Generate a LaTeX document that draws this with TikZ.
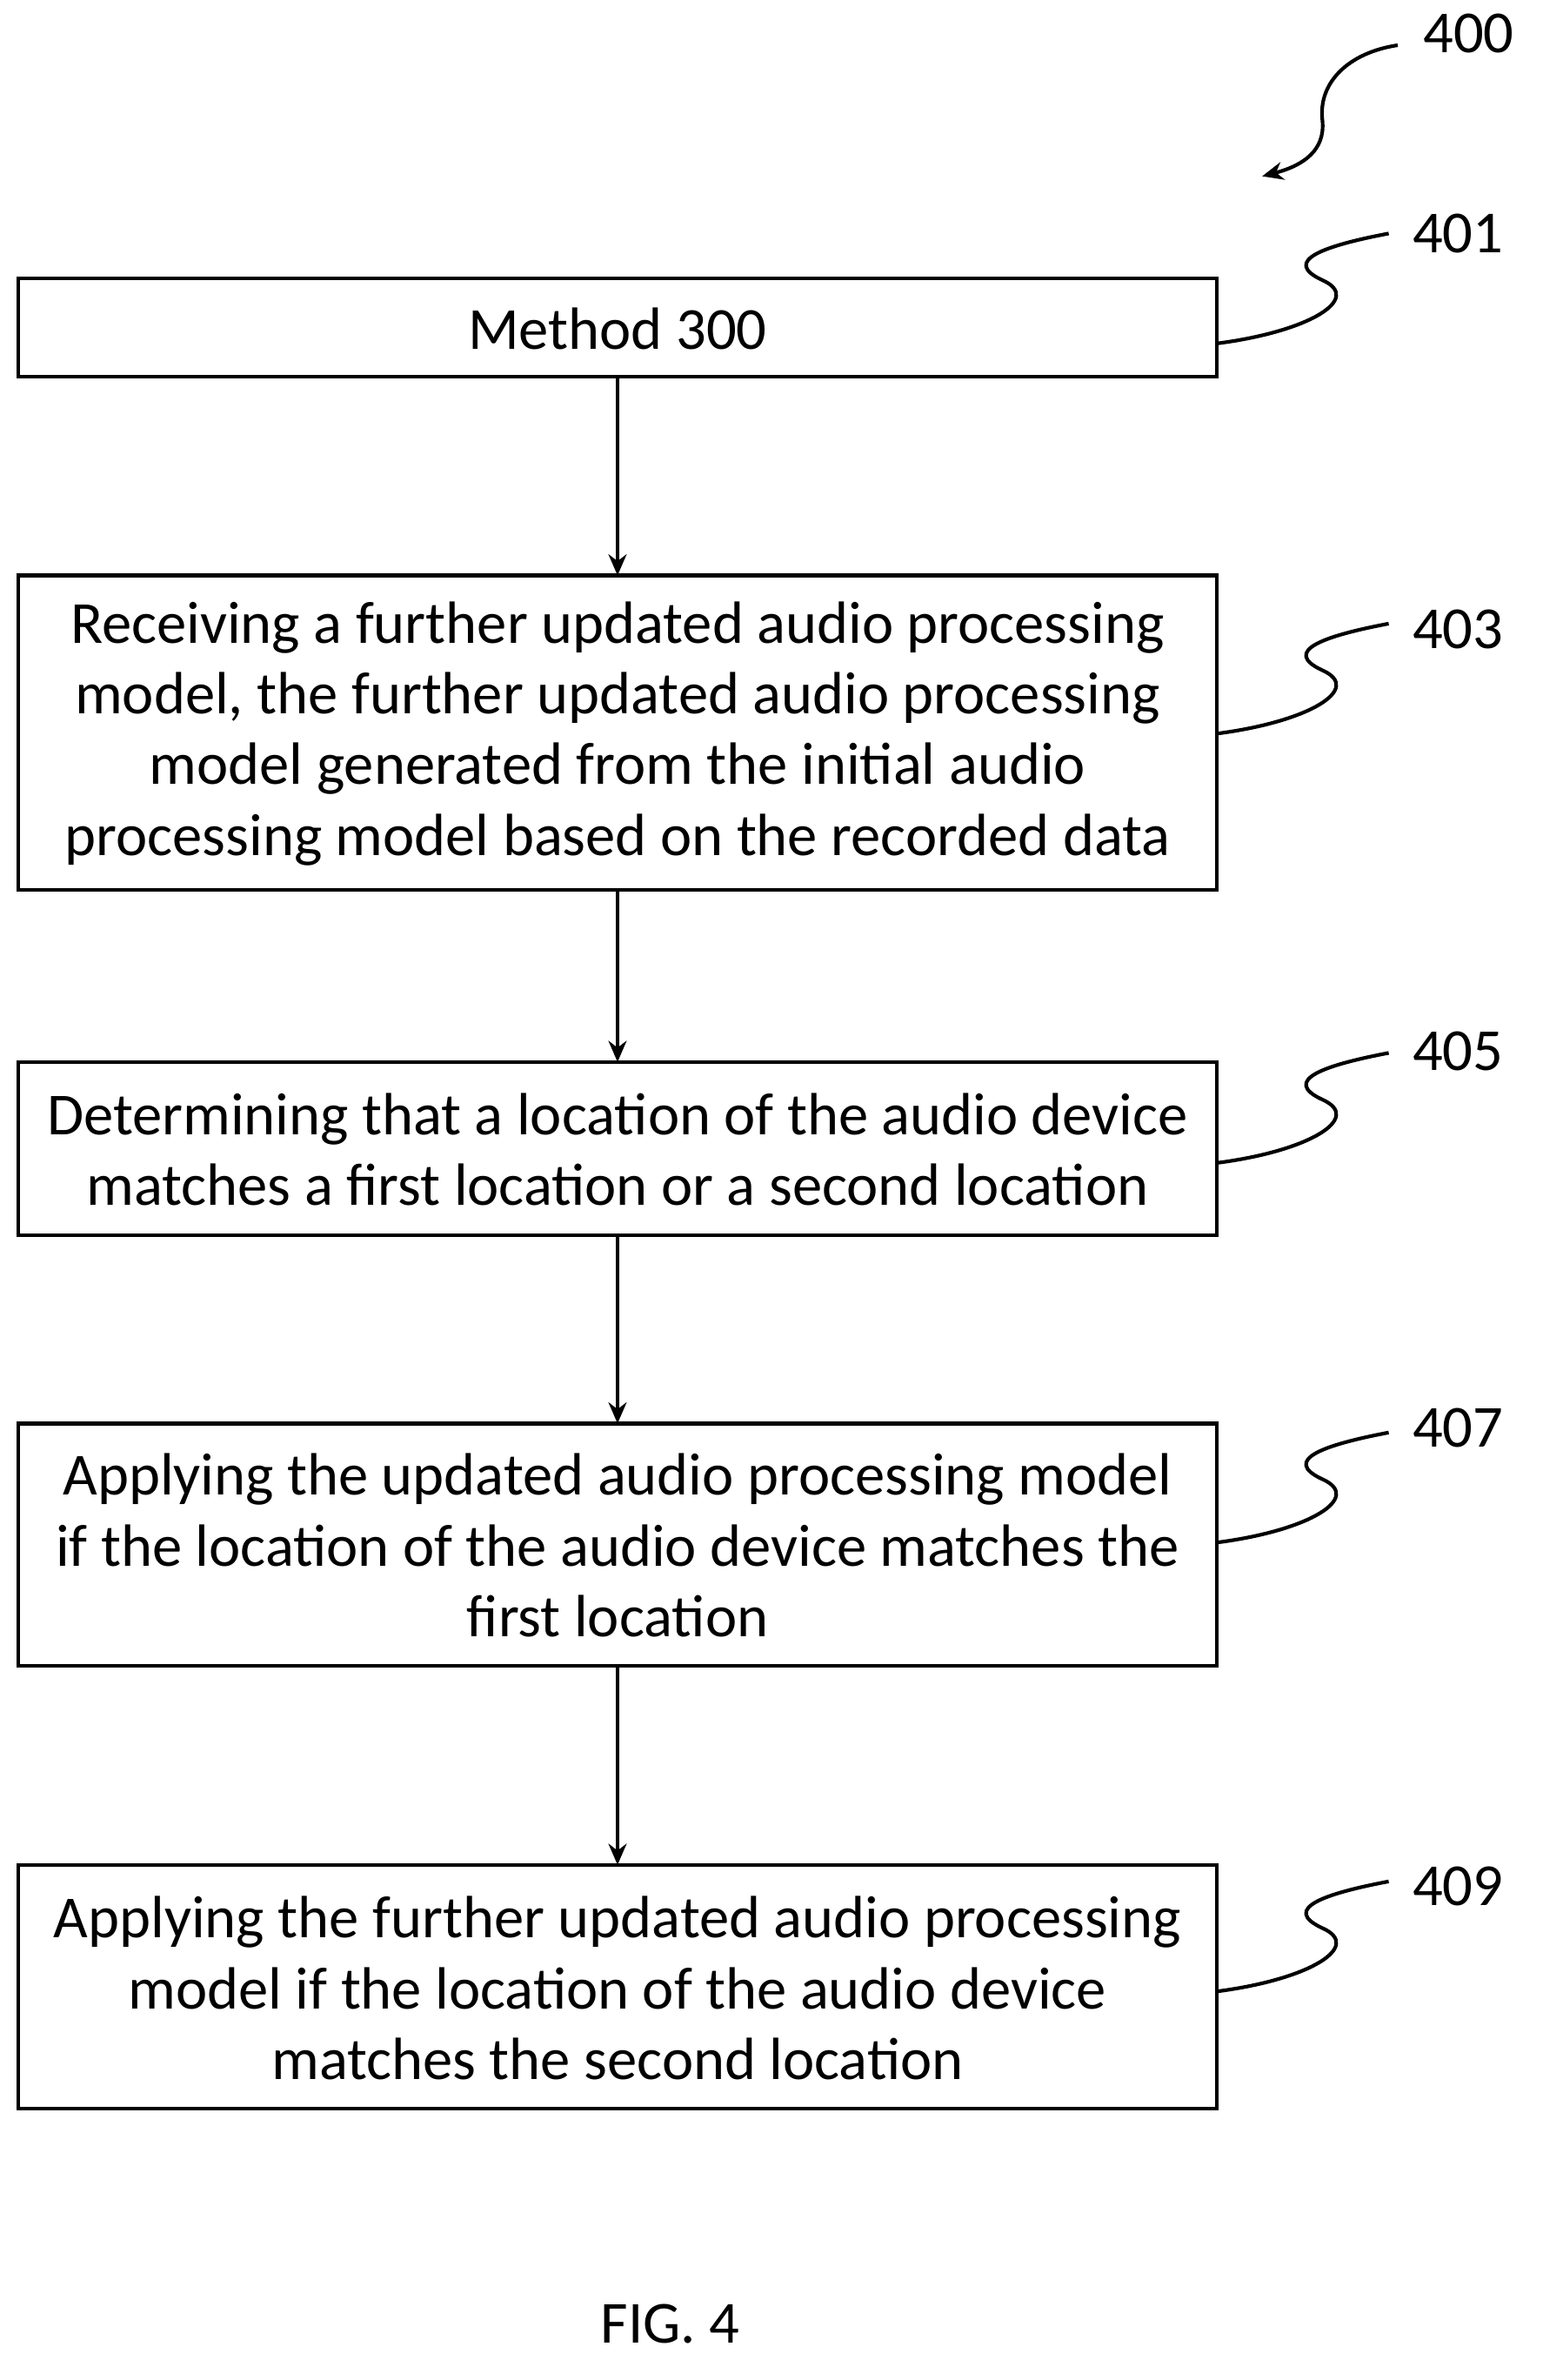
\documentclass[tikz,border=0pt]{standalone}
\usetikzlibrary{arrows.meta}
\usepackage{fontspec}
\setmainfont{Carlito}
\begin{document}
\begin{tikzpicture}[x=0.5pt,y=-0.5pt,
 box/.style={draw,line width=1.2pt,inner sep=0pt},
 txt/.style={align=center,font=\fontsize{19.8}{23.5}\selectfont},
 lab/.style={font=\fontsize{19.8}{23.5}\selectfont},
 arr/.style={-{Stealth[length=7pt,width=6pt]},line width=1.2pt},
 sq/.style={line width=1.2pt}]
\useasboundingbox (0,0) rectangle (1024,1580);
\draw[box] (12,185) rectangle (808,250);
\node[txt] (t1) at (410,218) {Method 300};
\draw[box] (12,382) rectangle (808,591);
\node[txt] (t2) at (410,487) {Receiving a further updated audio processing\\model, the further updated audio processing\\model generated from the initial audio\\processing model based on the recorded data};
\draw[box] (12,705) rectangle (808,820);
\node[txt] (t3) at (410,763) {Determining that a location of the audio device\\matches a first location or a second location};
\draw[box] (12,945) rectangle (808,1106);
\node[txt] (t4) at (410,1026) {Applying the updated audio processing model\\if the location of the audio device matches the\\first location};
\draw[box] (12,1238) rectangle (808,1400);
\node[txt] (t5) at (410,1320) {Applying the further updated audio processing\\model if the location of the audio device\\matches the second location};
\coordinate (a1) at (410,250); \coordinate (b1) at (410,382);
\coordinate (a2) at (410,591); \coordinate (b2) at (410,705);
\coordinate (a3) at (410,820); \coordinate (b3) at (410,945);
\coordinate (a4) at (410,1106); \coordinate (b4) at (410,1238);
\draw[arr] (a1)--(b1); \draw[arr] (a2)--(b2); \draw[arr] (a3)--(b3); \draw[arr] (a4)--(b4);
\foreach \yb/\yl/\n in {228/155/401,487/418/403,772/698/405,1024/948/407,1322/1252/409}{
 \draw[sq] (808,\yb) .. controls (870,\yb-8) and (905,\yb-30) .. (878,\yb-42) .. controls (850,\yb-55) and (880,\yb-65) .. (922,\yb-73);
 \node[lab] (l\n) at (968,\yl) {\n};
}
\node[lab] (l400) at (975,22) {400};
\draw[arr] (928,30) .. controls (895,35) and (875,55) .. (878,80) .. controls (880,100) and (865,110) .. (838,117);
\node[lab] (fig) at (445,1543) {FIG. 4};
\end{tikzpicture}
\end{document}
